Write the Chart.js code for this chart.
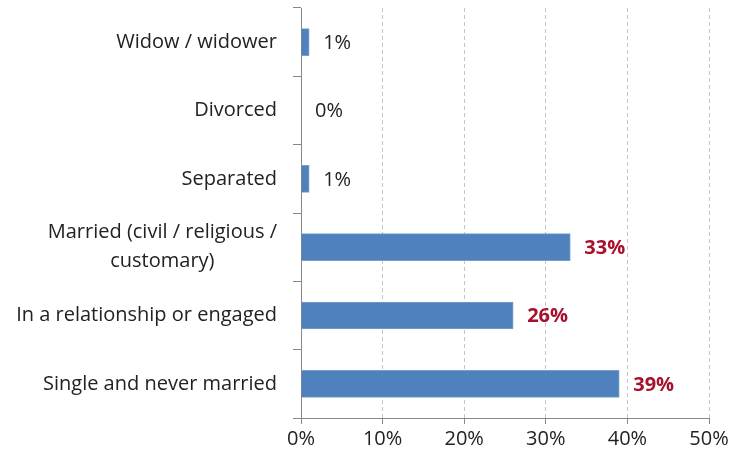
<!DOCTYPE html>
<html>
<head>
<meta charset="utf-8">
<script src="https://cdn.jsdelivr.net/npm/chart.js@4.4.1/dist/chart.umd.min.js"></script>
<style>
  html, body { margin: 0; padding: 0; background: #fff; }
  #wrap { width: 732px; height: 461px; position: relative; }
</style>
</head>
<body>
<div id="wrap"><canvas id="maritalChart"></canvas></div>
<script>
// Marital status, top to bottom
const categories = [
    'Widow / widower',
    'Divorced',
    'Separated',
    ['Married (civil / religious /', 'customary)'],
    'In a relationship or engaged',
    'Single and never married'
];
const shares = [1, 0, 1, 33, 26, 39];
const tickValues = [0, 10, 20, 30, 40, 50];

const FONT = '"Open Sans", Lato, sans-serif';
const SIZE = 20;

// Category names, right-aligned as a block, multi-line names centred line by line
const categoryLabels = {
    id: 'categoryLabels',
    afterDraw(chart) {
        const ctx = chart.ctx;
        const y = chart.scales.y;
        const right = y.right - 24;
        const lineH = 29;
        ctx.save();
        ctx.font = SIZE + 'px ' + FONT;
        ctx.fillStyle = '#222';
        ctx.textBaseline = 'middle';
        categories.forEach((name, i) => {
            const lines = Array.isArray(name) ? name : [name];
            const cy = y.getPixelForValue(i);
            const widest = Math.max(...lines.map(l => ctx.measureText(l).width));
            const cx = right - widest / 2;
            ctx.textAlign = 'center';
            lines.forEach((l, k) => {
                ctx.fillText(l, cx, cy + (k - (lines.length - 1) / 2) * lineH);
            });
        });
        ctx.restore();
    }
};

// Draws the percentage next to each bar; the big ones are bold red
const valueLabels = {
    id: 'valueLabels',
    afterDatasetsDraw(chart) {
        const ctx = chart.ctx;
        const meta = chart.getDatasetMeta(0);
        ctx.save();
        ctx.textBaseline = 'middle';
        ctx.textAlign = 'left';
        meta.data.forEach((bar, i) => {
            const v = shares[i];
            const big = v >= 10;
            ctx.font = (big ? 'bold ' : '') + SIZE + 'px ' + FONT;
            ctx.fillStyle = big ? '#A8112E' : '#222';
            ctx.fillText(v + '%', bar.x + 14, bar.y + 1);
        });
        ctx.restore();
    }
};

new Chart(document.getElementById('maritalChart'), {
    type: 'bar',
    data: {
        labels: categories,
        datasets: [{
            data: shares,
            backgroundColor: '#4F81BD',
            borderColor: '#7A9FCF',
            borderWidth: 1,
            borderSkipped: 'left',
            barThickness: 27
        }]
    },
    options: {
        indexAxis: 'y',
        responsive: true,
        maintainAspectRatio: false,
        animation: false,
        layout: { padding: { top: 8, right: 23, left: 0, bottom: 0 } },
        plugins: {
            legend: { display: false },
            tooltip: { enabled: false }
        },
        scales: {
            x: {
                min: 0,
                max: 50,
                afterBuildTicks: scale => {
                    scale.ticks = tickValues.map(v => ({ value: v }));
                },
                afterFit: scale => { scale.height = 43; },
                grid: {
                    color: '#C4C4C4',
                    lineWidth: 1,
                    tickColor: '#888',
                    tickLength: 6,
                    tickBorderDash: []
                },
                border: { display: true, color: '#888', width: 1, dash: [4, 3] },
                ticks: {
                    color: '#222',
                    padding: 3,
                    font: { family: FONT, size: SIZE },
                    callback: v => v + '%'
                }
            },
            y: {
                afterFit: scale => {
                    scale.width = 301;
                    scale.paddingTop = 0;
                    scale.paddingBottom = 0;
                },
                grid: {
                    drawOnChartArea: false,
                    tickColor: '#888',
                    tickLength: 8,
                    offset: true
                },
                border: { display: true, color: '#888', width: 1 },
                ticks: {
                    display: false
                }
            }
        }
    },
    plugins: [valueLabels, categoryLabels]
});
</script>
</body>
</html>
